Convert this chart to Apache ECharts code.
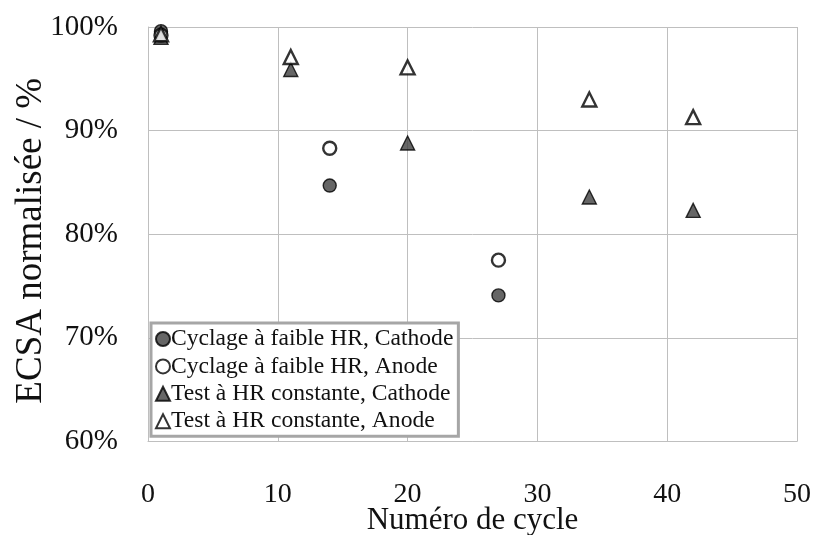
<!DOCTYPE html>
<html>
<head>
<meta charset="utf-8">
<script src="https://cdn.jsdelivr.net/npm/echarts@6/dist/echarts.min.js"></script>
<style>
  html, body { margin: 0; padding: 0; background: #fff; }
  #chart { width: 817px; height: 535px; }
</style>
</head>
<body>
<div id="chart"></div>
<script>
// Normalised ECSA (%) against cycle number
const seriesNames = [
  'Cyclage à faible HR, Cathode',
  'Cyclage à faible HR, Anode',
  'Test à HR constante, Cathode',
  'Test à HR constante, Anode'
];
const cyclageCycles = [1, 14, 27];
const cyclageCathode = [99.6, 84.7, 74.1];
const cyclageAnode = [99.2, 88.3, 77.5];
const testCycles = [1, 11, 20, 34, 42];
const testCathode = [99.0, 95.9, 88.8, 83.6, 82.3];
const testAnode = [99.3, 97.1, 96.1, 93.0, 91.3];

const xTicks = [0, 10, 20, 30, 40, 50];
const yTicks = [60, 70, 80, 90, 100];

const pair = (xs, ys) => xs.map((x, i) => [x, ys[i]]);
const font = '"Liberation Serif", "DejaVu Serif", serif';

const filled = { color: '#404040', borderColor: '#000', borderWidth: 1.4 };
const open = { color: '#ffffff', borderColor: '#000', borderWidth: 2.4 };

const chart = echarts.init(document.getElementById('chart'), null, { renderer: 'canvas' });
chart.setOption({
  animation: false,
  backgroundColor: '#fff',
  grid: {
    left: 148, right: 20, top: 27, bottom: 93.5,
    containLabel: false,
    outerBoundsMode: 'none'
  },
  legend: {
    left: 151,
    top: 323,
    orient: 'vertical',
    backgroundColor: '#fff',
    borderColor: '#a6a6a6',
    borderWidth: 3,
    padding: [4, 5, 3, 4],
    itemGap: 3.4,
    itemWidth: 14,
    itemHeight: 14,
    textStyle: { fontFamily: font, fontSize: 23.6, color: '#111', padding: [0, 0, 0, -4] },
    data: seriesNames
  },
  xAxis: {
    type: 'value',
    min: 0, max: 50, interval: 10,
    axisLine: { show: true, lineStyle: { color: '#bfbfbf', width: 1 } },
    axisTick: { show: false },
    splitLine: { show: true, lineStyle: { color: '#bfbfbf', width: 1 } },
    axisLabel: {
      fontFamily: font, fontSize: 28, color: '#111', margin: 39,
      formatter: v => xTicks.includes(v) ? String(v) : ''
    },
    name: 'Numéro de cycle',
    nameLocation: 'middle',
    nameMoveOverlap: false,
    nameGap: 64,
    nameTextStyle: { fontFamily: font, fontSize: 31, color: '#111' }
  },
  yAxis: {
    type: 'value',
    min: 60, max: 100, interval: 10,
    axisLine: { show: true, lineStyle: { color: '#bfbfbf', width: 1 } },
    axisTick: { show: false },
    splitLine: { show: true, lineStyle: { color: '#bfbfbf', width: 1 } },
    axisLabel: {
      fontFamily: font, fontSize: 29, color: '#111', margin: 30,
      formatter: v => yTicks.includes(v) ? v + '%' : ''
    },
    name: 'ECSA normalisée / %',
    nameLocation: 'middle',
    nameMoveOverlap: false,
    nameGap: 98,
    nameTextStyle: { fontFamily: font, fontSize: 37, color: '#111', padding: [0, 13, 0, 0] }
  },
  series: [
    { name: seriesNames[0], type: 'scatter', symbol: 'circle', symbolSize: 13,
      itemStyle: filled, data: pair(cyclageCycles, cyclageCathode) },
    { name: seriesNames[1], type: 'scatter', symbol: 'circle', symbolSize: 13,
      itemStyle: open, data: pair(cyclageCycles, cyclageAnode) },
    { name: seriesNames[2], type: 'scatter', symbol: 'triangle', symbolSize: 14,
      itemStyle: filled, data: pair(testCycles, testCathode) },
    { name: seriesNames[3], type: 'scatter', symbol: 'triangle', symbolSize: 14,
      itemStyle: open, data: pair(testCycles, testAnode) }
  ]
});
</script>
</body>
</html>
